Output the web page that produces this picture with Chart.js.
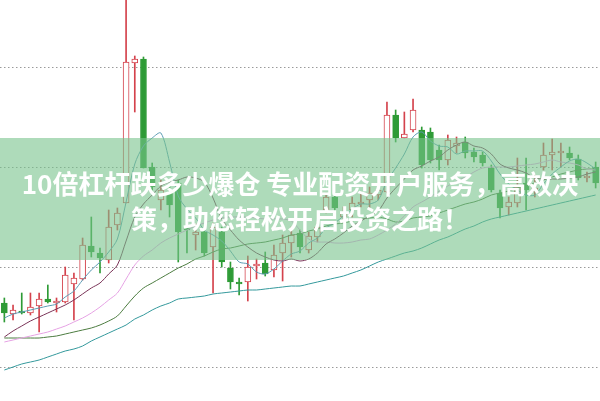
<!DOCTYPE html>
<html lang="zh">
<head>
  <meta charset="UTF-8">
  <title>K线</title>
  <script src="https://cdn.jsdelivr.net/npm/chart.js"></script>
  <style>
    body {
      margin: 0;
      background: #fff;
    }
    #wrap {
      position: relative;
      width: 600px;
      height: 401px;
      overflow: hidden;
    }
    #banner {
      position: absolute;
      left: 0;
      top: 138px;
      width: 600px;
      height: 122px;
      background: rgba(120, 195, 140, 0.6);
    }
    #title {
      position: absolute;
      left: 0;
      top: 165px;
      width: 600px;
      text-align: center;
      color: #fff;
      font-family: 'Noto Sans CJK SC', sans-serif;
      font-weight: 700;
      font-size: 26px;
      line-height: 35px;
    }
  </style>
</head>
<body>
  <div id="wrap">
    <canvas id="kChart" width="600" height="401"></canvas>
    <div id="banner"></div>
    <div id="title">10倍杠杆跌多少爆仓 专业配资开户服务，高效决<br>策，助您轻松开启投资之路！</div>
  </div>

  <script>
    // 日K数据（开、高、低、收）
    var opens  = [1.64, 1.53, 1.56, 1.54, 1.61, 1.68, 1.64, 1.65, 1.83, 1.88,
                  2.21, 2.14, 2.07, 2.42, 2.64, 4.04, 4.08, 3.00, 2.67, 2.74,
                  2.84, 2.39, 2.32, 2.35, 2.20, 2.35, 1.99, 1.85, 1.85, 2.01,
                  2.04, 1.97, 2.14, 2.24, 2.34, 2.17, 2.30, 2.57, 2.70, 2.50,
                  2.57, 2.63, 2.67, 2.72, 2.75, 3.52, 3.29, 3.37, 3.37, 3.35,
                  3.17, 3.07, 3.21, 3.25, 3.15, 3.12, 2.99, 2.74, 2.60, 2.64,
                  2.84, 2.75, 3.00, 3.12, 3.14, 3.14, 3.08, 2.89, 3.00];
    var highs  = [1.69, 1.62, 1.74, 1.74, 1.74, 1.82, 1.69, 2.00, 1.94, 2.29,
                  2.50, 2.19, 2.57, 2.59, 4.77, 4.11, 4.10, 3.04, 2.87, 2.82,
                  2.87, 2.45, 2.43, 2.39, 2.44, 2.40, 2.05, 1.89, 2.11, 2.08,
                  2.15, 2.22, 2.32, 2.40, 2.37, 2.35, 2.44, 2.74, 2.74, 2.60,
                  2.70, 2.75, 2.80, 2.82, 3.65, 3.57, 3.55, 3.68, 3.40, 3.39,
                  3.22, 3.32, 3.30, 3.30, 3.19, 3.15, 3.02, 2.77, 2.70, 3.09,
                  3.09, 2.92, 3.24, 3.28, 3.24, 3.20, 3.12, 2.95, 3.05];
    var lows   = [1.45, 1.47, 1.53, 1.52, 1.35, 1.64, 1.55, 1.64, 1.47, 1.87,
                  2.10, 1.94, 2.04, 2.37, 2.64, 3.55, 2.99, 2.77, 2.57, 2.50,
                  2.05, 2.14, 2.17, 2.11, 1.74, 2.00, 1.78, 1.72, 1.66, 1.88,
                  1.91, 1.90, 1.86, 2.10, 2.14, 2.14, 2.25, 2.54, 2.52, 2.44,
                  2.50, 2.60, 2.59, 2.67, 2.74, 3.25, 3.29, 3.35, 2.99, 3.04,
                  2.97, 3.02, 3.14, 3.09, 3.05, 3.01, 2.75, 2.49, 2.52, 2.60,
                  2.57, 2.70, 2.97, 2.97, 3.00, 3.07, 2.87, 2.85, 2.79];
    var closes = [1.54, 1.57, 1.54, 1.60, 1.68, 1.65, 1.66, 1.92, 1.89, 2.22,
                  2.15, 2.09, 2.40, 2.54, 4.05, 4.08, 2.99, 2.80, 2.77, 2.62,
                  2.35, 2.37, 2.35, 2.14, 2.40, 2.05, 1.85, 1.83, 2.00, 2.03,
                  1.93, 2.12, 2.24, 2.32, 2.20, 2.31, 2.40, 2.70, 2.59, 2.55,
                  2.64, 2.65, 2.74, 2.77, 3.52, 3.29, 3.33, 3.57, 3.02, 3.07,
                  3.07, 3.27, 3.24, 3.14, 3.10, 3.04, 2.77, 2.59, 2.65, 2.80,
                  2.77, 2.79, 3.12, 3.15, 3.16, 3.09, 2.89, 2.91, 2.84];

    // 均线
    var ma5  = [1.49, 1.53, 1.55, 1.57, 1.59, 1.61, 1.63, 1.70, 1.76, 1.87,
                1.97, 2.05, 2.15, 2.28, 2.65, 3.03, 3.21, 3.29, 3.34, 3.05,
                2.71, 2.58, 2.49, 2.37, 2.32, 2.26, 2.16, 2.05, 2.03, 1.95,
                1.93, 1.98, 2.06, 2.13, 2.16, 2.24, 2.29, 2.39, 2.44, 2.51,
                2.58, 2.63, 2.63, 2.67, 2.86, 2.99, 3.13, 3.30, 3.35, 3.26,
                3.21, 3.20, 3.13, 3.16, 3.16, 3.16, 3.06, 2.93, 2.83, 2.77,
                2.72, 2.72, 2.83, 2.93, 3.00, 3.06, 3.08, 3.04, 2.98];
    var ma10 = [1.30, 1.36, 1.41, 1.46, 1.50, 1.54, 1.58, 1.62, 1.67, 1.73,
                1.79, 1.84, 1.93, 2.02, 2.26, 2.50, 2.63, 2.72, 2.81, 2.85,
                2.87, 2.90, 2.89, 2.85, 2.69, 2.48, 2.37, 2.27, 2.20, 2.14,
                2.10, 2.07, 2.06, 2.08, 2.06, 2.08, 2.14, 2.23, 2.28, 2.34,
                2.41, 2.46, 2.51, 2.56, 2.69, 2.79, 2.88, 2.97, 3.01, 3.06,
                3.10, 3.17, 3.22, 3.25, 3.21, 3.19, 3.13, 3.03, 2.99, 2.97,
                2.94, 2.89, 2.88, 2.88, 2.88, 2.89, 2.90, 2.93, 2.95];
    var ma20 = [1.25, 1.27, 1.29, 1.31, 1.33, 1.35, 1.38, 1.41, 1.45, 1.49,
                1.54, 1.60, 1.67, 1.74, 1.88, 2.02, 2.11, 2.17, 2.24, 2.29,
                2.33, 2.37, 2.41, 2.44, 2.47, 2.49, 2.50, 2.50, 2.50, 2.49,
                2.48, 2.48, 2.48, 2.46, 2.37, 2.28, 2.25, 2.25, 2.24, 2.24,
                2.25, 2.27, 2.28, 2.32, 2.37, 2.43, 2.51, 2.60, 2.65, 2.70,
                2.76, 2.81, 2.86, 2.90, 2.95, 2.99, 3.00, 3.00, 3.00, 3.01,
                3.02, 3.03, 3.05, 3.07, 3.05, 3.04, 3.02, 2.98, 2.97];
    var ma30 = [1.29, 1.29, 1.29, 1.29, 1.29, 1.30, 1.31, 1.33, 1.35, 1.37,
                1.39, 1.42, 1.46, 1.51, 1.61, 1.71, 1.79, 1.84, 1.89, 1.94,
                1.99, 2.03, 2.08, 2.11, 2.15, 2.18, 2.19, 2.21, 2.23, 2.24,
                2.25, 2.27, 2.29, 2.32, 2.33, 2.36, 2.38, 2.41, 2.43, 2.44,
                2.46, 2.48, 2.49, 2.50, 2.48, 2.45, 2.46, 2.49, 2.50, 2.51,
                2.54, 2.57, 2.60, 2.63, 2.65, 2.68, 2.72, 2.74, 2.76, 2.79,
                2.82, 2.84, 2.87, 2.90, 2.93, 2.95, 2.97, 2.98, 2.98];
    var ma60 = [0.97, 1.00, 1.03, 1.05, 1.07, 1.10, 1.13, 1.16, 1.18, 1.21,
                1.26, 1.30, 1.34, 1.38, 1.42, 1.48, 1.52, 1.57, 1.61, 1.64,
                1.68, 1.69, 1.70, 1.71, 1.73, 1.74, 1.75, 1.76, 1.77, 1.77,
                1.78, 1.79, 1.80, 1.81, 1.81, 1.83, 1.85, 1.87, 1.89, 1.91,
                1.94, 1.97, 2.01, 2.05, 2.08, 2.11, 2.14, 2.16, 2.19, 2.23,
                2.27, 2.30, 2.34, 2.38, 2.41, 2.45, 2.48, 2.50, 2.52, 2.54,
                2.56, 2.58, 2.60, 2.62, 2.64, 2.66, 2.68, 2.70, 2.72];

    var yTicks = [1, 2, 3, 4];
    var days = opens.map(function (v, i) { return String(i + 1); });

    var RED = '#d4424c';
    var GREEN = '#2e9b36';

    function isUp(i) {
      return closes[i] >= opens[i];
    }

    var bodies = opens.map(function (o, i) { return [o, closes[i]]; });
    var wicks = lows.map(function (l, i) { return [l, highs[i]]; });

    function maLine(data, color) {
      return {
        type: 'line',
        data: data,
        borderColor: color,
        borderWidth: 1,
        pointRadius: 0,
        tension: 0.3,
        fill: false,
        order: 0
      };
    }

    var ctx = document.getElementById('kChart').getContext('2d');
    new Chart(ctx, {
      type: 'bar',
      data: {
        labels: days,
        datasets: [
          {
            data: wicks,
            backgroundColor: days.map(function (d, i) { return isUp(i) ? RED : GREEN; }),
            barThickness: 1,
            grouped: false,
            order: 2
          },
          {
            data: bodies,
            backgroundColor: days.map(function (d, i) { return isUp(i) ? '#ffffff' : GREEN; }),
            borderColor: days.map(function (d, i) { return isUp(i) ? RED : GREEN; }),
            borderWidth: 1,
            borderSkipped: false,
            barThickness: 6,
            minBarLength: 2,
            grouped: false,
            order: 1
          },
          maLine(ma5, '#5c9cb4'),
          maLine(ma10, '#7a3458'),
          maLine(ma20, '#e6a2e4'),
          maLine(ma30, '#4c7c40'),
          maLine(ma60, '#34999c')
        ]
      },
      options: {
        responsive: false,
        animation: false,
        layout: { padding: 0 },
        plugins: {
          legend: { display: false },
          tooltip: { enabled: false }
        },
        scales: {
          x: {
            display: false,
            offset: true
          },
          y: {
            min: 0.66,
            max: 4.67,
            ticks: { display: false },
            grid: { color: '#9a9a9a', drawTicks: false, lineWidth: 1 },
            border: { display: false, dash: [1.5, 2.5] },
            afterBuildTicks: function (scale) {
              scale.ticks = yTicks.map(function (v) { return { value: v }; });
            },
            afterFit: function (scale) {
              scale.width = 0;
            }
          }
        }
      }
    });
  </script>
</body>
</html>
